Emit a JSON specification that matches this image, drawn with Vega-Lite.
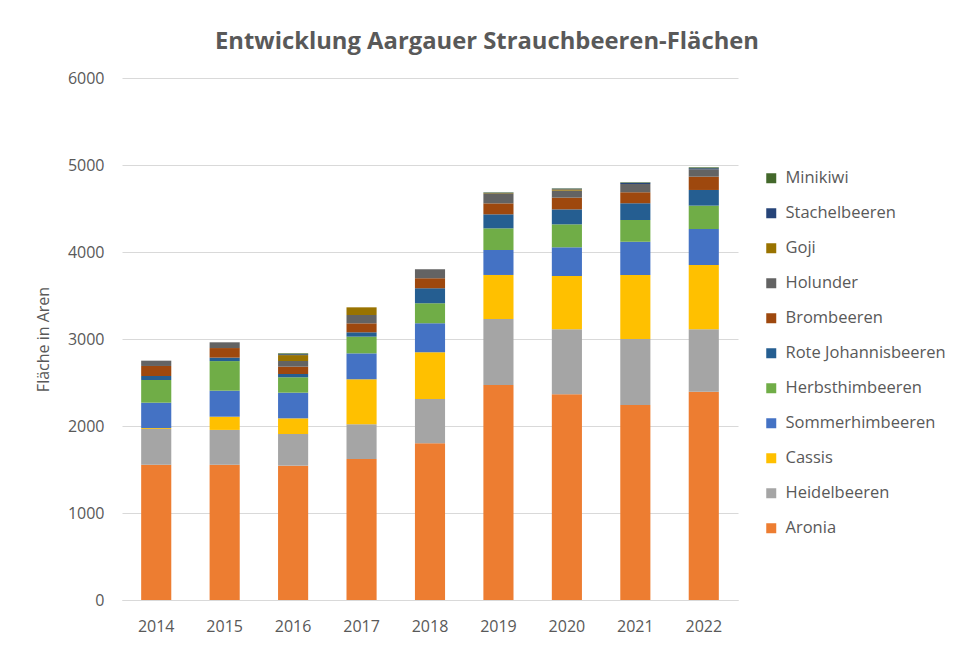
{
  "$schema": "https://vega.github.io/schema/vega-lite/v6.json",
  "autosize": "none",
  "width": 616,
  "height": 522,
  "padding": {"left": 122, "top": 78, "right": 223, "bottom": 46},
  "background": "white",
  "config": {
    "font": "Open Sans",
    "view": {"stroke": null}
  },
  "title": {
    "text": "Entwicklung Aargauer Strauchbeeren-Flächen",
    "fontSize": 23.8,
    "fontWeight": "bold",
    "color": "#595959",
    "anchor": "middle",
    "frame": "group",
    "dx": 57,
    "offset": 16
  },
  "data": {
    "values": [
      {"Jahr": "2014", "Sorte": "Aronia", "Fläche": 1555},
      {"Jahr": "2014", "Sorte": "Heidelbeeren", "Fläche": 411},
      {"Jahr": "2014", "Sorte": "Cassis", "Fläche": 10},
      {"Jahr": "2014", "Sorte": "Sommerhimbeeren", "Fläche": 292},
      {"Jahr": "2014", "Sorte": "Herbsthimbeeren", "Fläche": 261},
      {"Jahr": "2014", "Sorte": "Rote Johannisbeeren", "Fläche": 46},
      {"Jahr": "2014", "Sorte": "Brombeeren", "Fläche": 115},
      {"Jahr": "2014", "Sorte": "Holunder", "Fläche": 61},
      {"Jahr": "2015", "Sorte": "Aronia", "Fläche": 1555},
      {"Jahr": "2015", "Sorte": "Heidelbeeren", "Fläche": 400},
      {"Jahr": "2015", "Sorte": "Cassis", "Fläche": 152},
      {"Jahr": "2015", "Sorte": "Sommerhimbeeren", "Fläche": 299},
      {"Jahr": "2015", "Sorte": "Herbsthimbeeren", "Fläche": 340},
      {"Jahr": "2015", "Sorte": "Rote Johannisbeeren", "Fläche": 40},
      {"Jahr": "2015", "Sorte": "Brombeeren", "Fläche": 110},
      {"Jahr": "2015", "Sorte": "Holunder", "Fläche": 66},
      {"Jahr": "2016", "Sorte": "Aronia", "Fläche": 1544},
      {"Jahr": "2016", "Sorte": "Heidelbeeren", "Fläche": 364},
      {"Jahr": "2016", "Sorte": "Cassis", "Fläche": 180},
      {"Jahr": "2016", "Sorte": "Sommerhimbeeren", "Fläche": 295},
      {"Jahr": "2016", "Sorte": "Herbsthimbeeren", "Fläche": 177},
      {"Jahr": "2016", "Sorte": "Rote Johannisbeeren", "Fläche": 38},
      {"Jahr": "2016", "Sorte": "Brombeeren", "Fläche": 84},
      {"Jahr": "2016", "Sorte": "Holunder", "Fläche": 65},
      {"Jahr": "2016", "Sorte": "Goji", "Fläche": 68},
      {"Jahr": "2016", "Sorte": "Stachelbeeren", "Fläche": 10},
      {"Jahr": "2016", "Sorte": "Minikiwi", "Fläche": 10},
      {"Jahr": "2017", "Sorte": "Aronia", "Fläche": 1621},
      {"Jahr": "2017", "Sorte": "Heidelbeeren", "Fläche": 398},
      {"Jahr": "2017", "Sorte": "Cassis", "Fläche": 518},
      {"Jahr": "2017", "Sorte": "Sommerhimbeeren", "Fläche": 298},
      {"Jahr": "2017", "Sorte": "Herbsthimbeeren", "Fläche": 192},
      {"Jahr": "2017", "Sorte": "Rote Johannisbeeren", "Fläche": 50},
      {"Jahr": "2017", "Sorte": "Brombeeren", "Fläche": 103},
      {"Jahr": "2017", "Sorte": "Holunder", "Fläche": 96},
      {"Jahr": "2017", "Sorte": "Goji", "Fläche": 88},
      {"Jahr": "2018", "Sorte": "Aronia", "Fläche": 1801},
      {"Jahr": "2018", "Sorte": "Heidelbeeren", "Fläche": 509},
      {"Jahr": "2018", "Sorte": "Cassis", "Fläche": 537},
      {"Jahr": "2018", "Sorte": "Sommerhimbeeren", "Fläche": 333},
      {"Jahr": "2018", "Sorte": "Herbsthimbeeren", "Fläche": 230},
      {"Jahr": "2018", "Sorte": "Rote Johannisbeeren", "Fläche": 172},
      {"Jahr": "2018", "Sorte": "Brombeeren", "Fläche": 115},
      {"Jahr": "2018", "Sorte": "Holunder", "Fläche": 104},
      {"Jahr": "2019", "Sorte": "Aronia", "Fläche": 2471},
      {"Jahr": "2019", "Sorte": "Heidelbeeren", "Fläche": 759},
      {"Jahr": "2019", "Sorte": "Cassis", "Fläche": 506},
      {"Jahr": "2019", "Sorte": "Sommerhimbeeren", "Fläche": 287},
      {"Jahr": "2019", "Sorte": "Herbsthimbeeren", "Fläche": 249},
      {"Jahr": "2019", "Sorte": "Rote Johannisbeeren", "Fläche": 161},
      {"Jahr": "2019", "Sorte": "Brombeeren", "Fläche": 126},
      {"Jahr": "2019", "Sorte": "Holunder", "Fläche": 108},
      {"Jahr": "2019", "Sorte": "Goji", "Fläche": 8},
      {"Jahr": "2019", "Sorte": "Stachelbeeren", "Fläche": 6},
      {"Jahr": "2019", "Sorte": "Minikiwi", "Fläche": 5},
      {"Jahr": "2020", "Sorte": "Aronia", "Fläche": 2364},
      {"Jahr": "2020", "Sorte": "Heidelbeeren", "Fläche": 747},
      {"Jahr": "2020", "Sorte": "Cassis", "Fläche": 613},
      {"Jahr": "2020", "Sorte": "Sommerhimbeeren", "Fläche": 330},
      {"Jahr": "2020", "Sorte": "Herbsthimbeeren", "Fläche": 264},
      {"Jahr": "2020", "Sorte": "Rote Johannisbeeren", "Fläche": 172},
      {"Jahr": "2020", "Sorte": "Brombeeren", "Fläche": 135},
      {"Jahr": "2020", "Sorte": "Holunder", "Fläche": 80},
      {"Jahr": "2020", "Sorte": "Goji", "Fläche": 15},
      {"Jahr": "2020", "Sorte": "Stachelbeeren", "Fläche": 8},
      {"Jahr": "2020", "Sorte": "Minikiwi", "Fläche": 4},
      {"Jahr": "2021", "Sorte": "Aronia", "Fläche": 2241},
      {"Jahr": "2021", "Sorte": "Heidelbeeren", "Fläche": 759},
      {"Jahr": "2021", "Sorte": "Cassis", "Fläche": 736},
      {"Jahr": "2021", "Sorte": "Sommerhimbeeren", "Fläche": 383},
      {"Jahr": "2021", "Sorte": "Herbsthimbeeren", "Fläche": 249},
      {"Jahr": "2021", "Sorte": "Rote Johannisbeeren", "Fläche": 191},
      {"Jahr": "2021", "Sorte": "Brombeeren", "Fläche": 127},
      {"Jahr": "2021", "Sorte": "Holunder", "Fläche": 96},
      {"Jahr": "2021", "Sorte": "Stachelbeeren", "Fläche": 14},
      {"Jahr": "2021", "Sorte": "Minikiwi", "Fläche": 5},
      {"Jahr": "2022", "Sorte": "Aronia", "Fläche": 2395},
      {"Jahr": "2022", "Sorte": "Heidelbeeren", "Fläche": 716},
      {"Jahr": "2022", "Sorte": "Cassis", "Fläche": 740},
      {"Jahr": "2022", "Sorte": "Sommerhimbeeren", "Fläche": 413},
      {"Jahr": "2022", "Sorte": "Herbsthimbeeren", "Fläche": 269},
      {"Jahr": "2022", "Sorte": "Rote Johannisbeeren", "Fläche": 180},
      {"Jahr": "2022", "Sorte": "Brombeeren", "Fläche": 153},
      {"Jahr": "2022", "Sorte": "Holunder", "Fläche": 85},
      {"Jahr": "2022", "Sorte": "Stachelbeeren", "Fläche": 12},
      {"Jahr": "2022", "Sorte": "Minikiwi", "Fläche": 10}
    ]
  },
  "transform": [
    {"calculate": "indexof(['Aronia','Heidelbeeren','Cassis','Sommerhimbeeren','Herbsthimbeeren','Rote Johannisbeeren','Brombeeren','Holunder','Goji','Stachelbeeren','Minikiwi'], datum.Sorte)", "as": "Rang"}
  ],
  "mark": {"type": "bar"},
  "encoding": {
    "x": {
      "field": "Jahr",
      "type": "ordinal",
      "scale": {"paddingInner": 0.56, "paddingOuter": 0.28},
      "axis": {
        "title": null,
        "labelAngle": 0,
        "labelFontSize": 16,
        "labelColor": "#595959",
        "labelPadding": 18,
        "ticks": false,
        "domainColor": "#D9D9D9",
        "domainWidth": 1
      }
    },
    "y": {
      "field": "Fläche",
      "type": "quantitative",
      "stack": "zero",
      "scale": {"domain": [0, 6000]},
      "axis": {
        "title": "Fläche in Aren",
        "titleFontSize": 16,
        "titleFontWeight": "normal",
        "titleColor": "#595959",
        "titlePadding": 16,
        "values": [0, 1000, 2000, 3000, 4000, 5000, 6000],
        "format": "d",
        "labelFontSize": 16,
        "labelColor": "#595959",
        "labelPadding": 18,
        "ticks": false,
        "domain": false,
        "gridColor": "#D9D9D9",
        "gridWidth": 1
      }
    },
    "order": {"field": "Rang", "type": "quantitative", "sort": "ascending"},
    "color": {
      "field": "Sorte",
      "type": "nominal",
      "scale": {
        "domain": ["Minikiwi", "Stachelbeeren", "Goji", "Holunder", "Brombeeren", "Rote Johannisbeeren", "Herbsthimbeeren", "Sommerhimbeeren", "Cassis", "Heidelbeeren", "Aronia"],
        "range": ["#43682B", "#264478", "#997300", "#636363", "#9E480E", "#255E91", "#70AD47", "#4472C4", "#FFC000", "#A5A5A5", "#ED7D31"]
      },
      "legend": {
        "title": null,
        "orient": "none",
        "legendX": 641,
        "legendY": 92,
        "padding": 0,
        "symbolType": "square",
        "symbolSize": 100,
        "symbolStrokeWidth": 0,
        "labelFontSize": 16.5,
        "labelColor": "#595959",
        "labelOffset": 6,
        "rowPadding": 18,
        "labelLimit": 300
      }
    }
  }
}
